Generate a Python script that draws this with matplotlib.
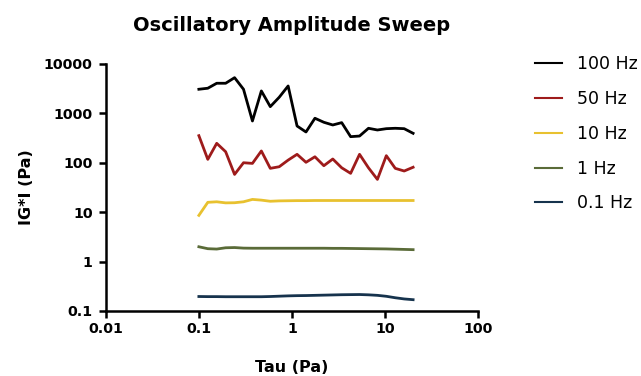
import matplotlib.pyplot as plt
from matplotlib.ticker import FixedLocator, NullLocator

plt.rcParams['font.family'] = ['DejaVu Sans']

# shear stress (Pa), same sweep for every frequency
tau = [0.1, 0.1247, 0.1555, 0.1939, 0.2418, 0.3016, 0.3761, 0.469, 0.5848,
       0.7293, 0.9095, 1.134, 1.414, 1.764, 2.199, 2.743, 3.42, 4.265,
       5.318, 6.632, 8.27, 10.31, 12.86, 16.04, 20.0]

g_100hz = [3070, 3220, 4060, 4060, 5270, 3070, 700, 2840, 1365, 2115, 3580,
           554, 419, 795, 659, 581, 648, 337, 347, 498, 460, 489, 498, 489, 394]
g_50hz = [353, 117, 247, 167, 58, 100, 97, 173, 77, 83, 113, 148, 102, 132,
          87, 119, 79, 61, 148, 79, 46, 139, 77, 68, 81]
g_10hz = [8.6, 15.8, 16.2, 15.4, 15.5, 16.2, 18.1, 17.5, 16.6, 16.9, 17.0,
          17.1, 17.1, 17.2, 17.2, 17.2, 17.2, 17.2, 17.2, 17.2, 17.2, 17.2,
          17.2, 17.2, 17.2]
g_1hz = [1.99, 1.82, 1.79, 1.9, 1.92, 1.87, 1.86, 1.86, 1.86, 1.86, 1.86,
         1.86, 1.86, 1.86, 1.86, 1.85, 1.85, 1.84, 1.83, 1.82, 1.81, 1.8,
         1.78, 1.76, 1.74]
g_01hz = [0.196, 0.195, 0.195, 0.194, 0.194, 0.194, 0.194, 0.194, 0.196,
          0.199, 0.202, 0.204, 0.205, 0.207, 0.209, 0.211, 0.213, 0.214,
          0.215, 0.212, 0.207, 0.198, 0.185, 0.175, 0.169]

series = [
    ('100 Hz', g_100hz, '#000000'),
    ('50 Hz', g_50hz, '#9e1b1b'),
    ('10 Hz', g_10hz, '#e8c12f'),
    ('1 Hz', g_1hz, '#5a6b38'),
    ('0.1 Hz', g_01hz, '#16334d'),
]

x_ticks = [0.01, 0.1, 1, 10, 100]
x_labels = ['0.01', '0.1', '1', '10', '100']
y_ticks = [0.1, 1, 10, 100, 1000, 10000]
y_labels = ['0.1', '1', '10', '100', '1000', '10000']

fig = plt.figure(figsize=(6.41, 3.76), dpi=100)
ax = fig.add_axes([0.165, 0.173, 0.581, 0.657])

for name, vals, col in series:
    ax.plot(tau, vals, color=col, lw=2.0, label=name)

ax.set_xscale('log')
ax.set_yscale('log')
ax.set_xlim(0.01, 100)
ax.set_ylim(0.1, 10000)
ax.xaxis.set_major_locator(FixedLocator(x_ticks))
ax.yaxis.set_major_locator(FixedLocator(y_ticks))
ax.xaxis.set_minor_locator(NullLocator())
ax.yaxis.set_minor_locator(NullLocator())
ax.set_xticklabels(x_labels, fontsize=10.3, fontweight='bold')
ax.set_yticklabels(y_labels, fontsize=10.3, fontweight='bold')

for s in ['top', 'right']:
    ax.spines[s].set_visible(False)
for s in ['left', 'bottom']:
    ax.spines[s].set_linewidth(1.8)
ax.tick_params(width=1.8, length=5, direction='out')
ax.tick_params(axis='y', pad=4.5)
ax.tick_params(axis='x', pad=3)

ax.set_xlabel('Tau (Pa)', fontsize=11.5, fontweight='bold', labelpad=17)
ax.set_ylabel('IG*I (Pa)', fontsize=11.5, fontweight='bold', labelpad=7)
ax.set_title('Oscillatory Amplitude Sweep', fontsize=14, fontweight='bold', pad=24)

leg = ax.legend(loc='upper left', bbox_to_anchor=(0.81, 0.895),
                bbox_transform=fig.transFigure, frameon=False, fontsize=12.5,
                handlelength=1.55, handletextpad=0.86, labelspacing=0.97)
for line in leg.get_lines():
    line.set_linewidth(1.5)

plt.savefig('out.png', dpi=100)
